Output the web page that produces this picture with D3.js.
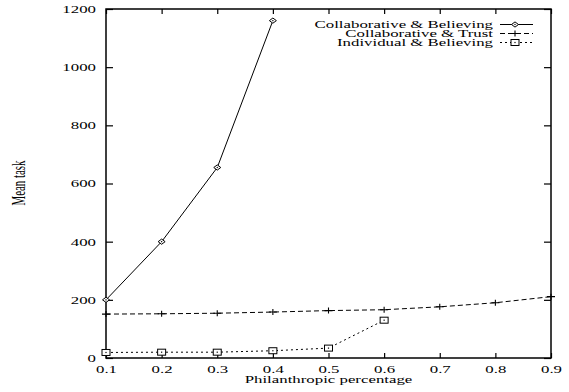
<!DOCTYPE html>
<html>
<head>
<meta charset="utf-8">
<script src="https://cdn.jsdelivr.net/npm/d3@7"></script>
<style>
  html, body { margin: 0; padding: 0; background: #fff; }
  svg { display: block; }
</style>
</head>
<body>
<svg id="chart" width="569" height="392"></svg>
<script>
// Philanthropic percentage on the x axis
const percentages = [0.1, 0.2, 0.3, 0.4, 0.5, 0.6, 0.7, 0.8, 0.9];

// Mean task per strategy (series end where the runs stop)
const collabBelieving = [200, 400, 655, 1160];
const collabTrust = [151, 152, 154, 158, 163, 166, 176, 190, 211];
const indivBelieving = [19, 20, 20, 25, 34, 130];

const seriesNames = ["Collaborative & Believing", "Collaborative & Trust", "Individual & Believing"];

const xTicks = [0.1, 0.2, 0.3, 0.4, 0.5, 0.6, 0.7, 0.8, 0.9];
const yTicks = [0, 200, 400, 600, 800, 1000, 1200];

const FONT = "'Liberation Serif', 'Times New Roman', Times, serif";
const FS = 10.2;  // font size
const SX = 1.65;  // horizontal stretch of the typeface

const svg = d3.select("#chart");
const plotL = 106, plotR = 551, plotT = 9, plotB = 358;

const x = d3.scaleLinear().domain([0.1, 0.9]).range([plotL, plotR]);
const y = d3.scaleLinear().domain([0, 1200]).range([plotB, plotT]);

function styleText(sel, size) {
  sel.style("font-family", FONT).style("font-size", (size || FS) + "px").attr("fill", "#000");
}

// axes with inward ticks on all four sides
const gL = svg.append("g").attr("transform", `translate(${plotL},0)`)
  .call(d3.axisLeft(y).tickValues(yTicks).tickSize(-7).tickFormat(d3.format("d")));
const gR = svg.append("g").attr("transform", `translate(${plotR},0)`)
  .call(d3.axisRight(y).tickValues(yTicks).tickSize(-7).tickFormat(""));
const gB = svg.append("g").attr("transform", `translate(0,${plotB})`)
  .call(d3.axisBottom(x).tickValues(xTicks).tickSize(-5).tickFormat(d3.format(".1f")));
const gT = svg.append("g").attr("transform", `translate(0,${plotT})`)
  .call(d3.axisTop(x).tickValues(xTicks).tickSize(-5).tickFormat(""));

[gL, gR, gB, gT].forEach(g => {
  g.attr("font-family", null);
  g.select(".domain").remove();
  g.selectAll(".tick line").attr("stroke", "#000").attr("stroke-width", 1.2);
  styleText(g.selectAll("text"));
});
gL.selectAll("text").attr("x", 0).attr("dy", "0.33em")
  .attr("transform", `translate(-10,0) scale(${SX},1)`);
gB.selectAll("text").attr("y", 0).attr("dy", 0)
  .attr("transform", `translate(0,15.3) scale(${SX},1)`);

// plot frame
svg.append("rect")
  .attr("x", plotL).attr("y", plotT)
  .attr("width", plotR - plotL).attr("height", plotB - plotT)
  .attr("fill", "none").attr("stroke", "#000").attr("stroke-width", 1.5);

// axis titles
svg.append("text")
  .attr("transform", `translate(${(plotL + plotR) / 2},383.3) scale(${SX},1)`)
  .attr("text-anchor", "middle")
  .call(styleText)
  .text("Philanthropic percentage");
svg.append("text")
  .attr("transform", `translate(25,183) scale(${SX},1) rotate(-90)`)
  .attr("text-anchor", "middle")
  .call(styleText, 10.9)
  .text("Mean task");

// marker drawing helpers
function diamond(g, cx, cy) {
  g.append("path")
    .attr("d", `M${cx - 3.5},${cy}L${cx},${cy - 2.6}L${cx + 3.5},${cy}L${cx},${cy + 2.6}Z`)
    .attr("fill", "#fff").attr("stroke", "#000").attr("stroke-width", 1);
  g.append("rect").attr("x", cx - 0.6).attr("y", cy - 0.6).attr("width", 1.2).attr("height", 1.2).attr("fill", "#000");
}
function plus(g, cx, cy) {
  g.append("path")
    .attr("d", `M${cx - 4},${cy}H${cx + 4}M${cx},${cy - 3}V${cy + 3}`)
    .attr("stroke", "#000").attr("stroke-width", 1.1).attr("fill", "none");
}
function square(g, cx, cy) {
  g.append("rect").attr("x", cx - 4).attr("y", cy - 3).attr("width", 8).attr("height", 6)
    .attr("fill", "#fff").attr("stroke", "#000").attr("stroke-width", 1);
  g.append("rect").attr("x", cx - 0.6).attr("y", cy - 0.6).attr("width", 1.2).attr("height", 1.2).attr("fill", "#000");
}

const series = [
  { name: seriesNames[0], values: collabBelieving, dash: null, marker: diamond },
  { name: seriesNames[1], values: collabTrust, dash: "5,3", marker: plus },
  { name: seriesNames[2], values: indivBelieving, dash: "2,3", marker: square }
];

const line = d3.line().x(d => x(d.p)).y(d => y(d.v));

series.forEach(s => {
  const pts = s.values.map((v, i) => ({ p: percentages[i], v }));
  svg.append("path")
    .datum(pts)
    .attr("d", line)
    .attr("fill", "none").attr("stroke", "#000").attr("stroke-width", 1)
    .attr("stroke-dasharray", s.dash);
  const g = svg.append("g");
  pts.forEach(d => s.marker(g, x(d.p), y(d.v)));
});

// legend, top right inside the frame
const legendRows = [24.5, 33.5, 42.5];
series.forEach((s, i) => {
  const ly = legendRows[i];
  svg.append("text")
    .attr("transform", `translate(493,${ly + 3.3}) scale(${SX},1)`)
    .attr("text-anchor", "end")
    .call(styleText)
    .text(s.name);
  svg.append("line")
    .attr("x1", 500).attr("x2", 533).attr("y1", ly).attr("y2", ly)
    .attr("stroke", "#000").attr("stroke-width", 1)
    .attr("stroke-dasharray", s.dash);
  const g = svg.append("g");
  s.marker(g, 515, ly);
});
</script>
</body>
</html>
